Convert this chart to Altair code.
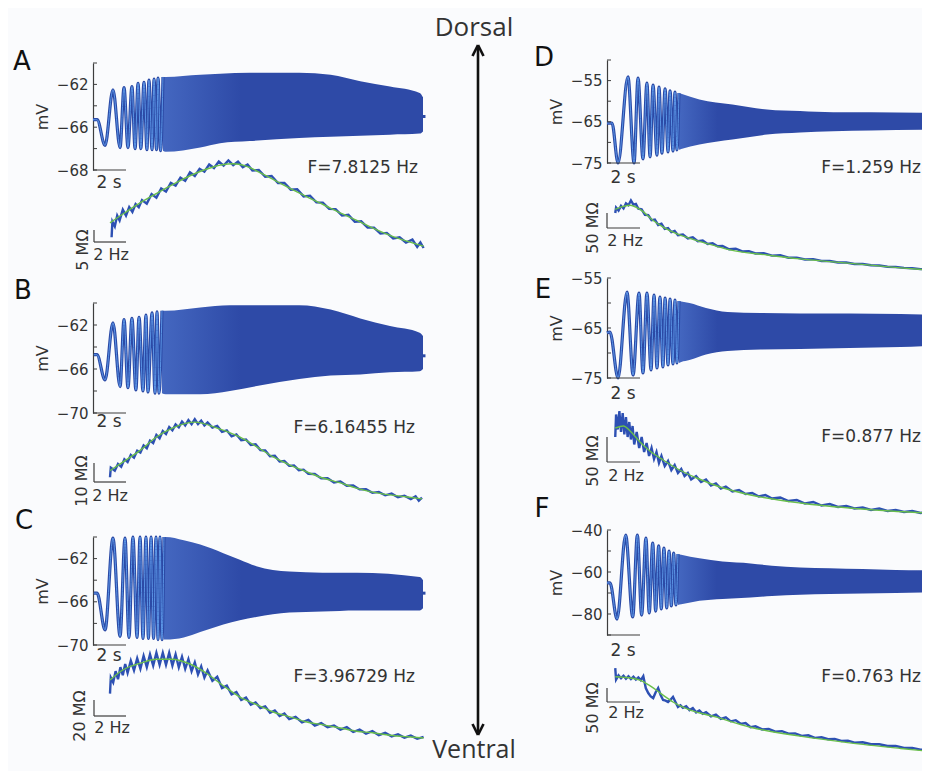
import altair as alt
import pandas as pd

# ======================= DATA =======================
# ---- voltage traces: early cycles as successive extremes (s, mV), later dense part as envelope ----
A_t = [0.0, 0.25, 0.73, 1.21, 1.64, 1.88, 2.12, 2.36, 2.55, 2.73, 2.9, 3.09, 3.27, 3.39, 3.58, 3.7, 3.85, 3.94, 4.1, 4.24]
A_v = [-65.3, -65.3, -67.7, -62.5, -67.9, -62.3, -67.9, -62.2, -68.0, -61.9, -68.0, -61.8, -68.1, -61.6, -68.1, -61.5, -68.1, -61.4, -68.2, -61.3]
A_env_t = [4.24, 4.4, 6.5, 7.7, 9.5, 12.5, 14.4, 16.2, 18.0, 19.8, 20.0]
A_env_hi = [-61.3, -61.3, -61.1, -61.0, -60.9, -60.9, -61.1, -61.7, -62.2, -62.8, -63.2]
A_env_lo = [-68.2, -68.3, -67.9, -67.5, -67.3, -67.0, -66.9, -66.8, -66.7, -66.6, -66.4]
A_tail_t = [19.95, 20.15]
A_tail_v = [-65.0, -65.0]

B_t = [0.05, 0.24, 0.73, 1.21, 1.64, 1.88, 2.12, 2.36, 2.6, 2.79, 3.03, 3.21, 3.33, 3.58, 3.76, 3.88, 4.0, 4.18]
B_v = [-64.7, -64.7, -67.0, -61.8, -67.6, -61.5, -67.7, -61.4, -67.9, -61.3, -68.0, -61.1, -68.1, -60.9, -68.2, -60.8, -68.2, -60.7]
B_env_t = [4.18, 4.4, 6.5, 8.3, 10.1, 12.5, 14.4, 16.2, 18.0, 19.8, 20.0]
B_env_hi = [-60.7, -60.7, -60.4, -60.2, -60.2, -60.2, -60.6, -61.4, -62.1, -62.7, -63.0]
B_env_lo = [-68.2, -68.3, -68.3, -68.0, -67.5, -66.9, -66.6, -66.5, -66.3, -66.2, -66.0]
B_tail_t = [19.95, 20.15]
B_tail_v = [-64.8, -64.8]

C_t = [0.05, 0.25, 0.73, 1.21, 1.64, 1.94, 2.18, 2.42, 2.67, 2.85, 3.03, 3.21, 3.36, 3.52, 3.67, 3.82, 3.94, 4.06, 4.18, 4.3]
C_v = [-65.2, -65.2, -68.6, -60.1, -69.2, -60.1, -69.3, -60.0, -69.3, -60.0, -69.4, -60.0, -69.4, -60.0, -69.4, -60.0, -69.5, -60.0, -69.5, -60.0]
C_env_t = [4.3, 4.4, 5.5, 6.5, 7.9, 8.9, 9.9, 11.9, 13.9, 16.0, 19.8, 20.0]
C_env_hi = [-60.0, -60.0, -60.3, -60.7, -61.5, -62.1, -62.7, -63.2, -63.3, -63.3, -63.7, -64.0]
C_env_lo = [-69.5, -69.5, -69.3, -68.8, -68.1, -67.7, -67.4, -67.0, -66.9, -66.8, -66.8, -66.6]
C_tail_t = [19.95, 20.15]
C_tail_v = [-65.2, -65.2]

D_t = [0.0, 0.3, 0.67, 1.27, 1.64, 1.88, 2.18, 2.42, 2.61, 2.79, 3.03, 3.15, 3.33, 3.52, 3.7, 3.82, 4.0, 4.12, 4.24, 4.36]
D_v = [-65.3, -65.3, -75.0, -54.1, -75.0, -54.4, -74.0, -55.6, -73.5, -56.1, -73.1, -56.6, -72.6, -57.0, -72.3, -57.5, -72.1, -57.8, -71.8, -58.0]
D_env_t = [4.36, 4.5, 5.6, 7.6, 9.7, 11.7, 13.7, 16.0, 19.6, 20.0]
D_env_hi = [-58.0, -58.2, -59.6, -60.8, -62.0, -62.4, -62.7, -62.7, -62.8, -62.8]
D_env_lo = [-71.8, -71.6, -70.5, -69.3, -68.1, -67.6, -67.3, -67.1, -66.9, -66.9]

E_t = [0.0, 0.18, 0.67, 1.21, 1.58, 1.94, 2.18, 2.42, 2.67, 2.85, 3.03, 3.21, 3.39, 3.52, 3.7, 3.82, 4.0, 4.12, 4.24, 4.36]
E_v = [-66.0, -65.8, -75.0, -57.8, -74.4, -58.0, -74.0, -58.0, -73.4, -58.4, -73.0, -58.8, -72.8, -59.0, -72.4, -59.2, -72.2, -59.4, -72.0, -59.6]
E_env_t = [4.36, 4.5, 5.0, 6.0, 7.3, 9.3, 11.7, 14.7, 17.8, 19.6, 20.0]
E_env_hi = [-59.6, -59.7, -60.0, -61.0, -61.8, -62.0, -62.1, -62.1, -62.2, -62.3, -62.3]
E_env_lo = [-72.0, -71.8, -71.4, -70.3, -69.6, -69.3, -69.2, -69.0, -68.8, -68.6, -68.6]

F_t = [0.0, 0.18, 0.61, 1.13, 1.56, 1.84, 2.1, 2.36, 2.56, 2.77, 2.95, 3.13, 3.29, 3.45, 3.62, 3.76, 3.9, 4.04, 4.18, 4.3]
F_v = [-65.2, -65.2, -82.4, -42.4, -81.4, -42.4, -80.5, -43.8, -79.5, -46.2, -78.6, -47.6, -77.6, -48.6, -77.1, -50.0, -76.2, -51.0, -75.7, -51.4]
F_env_t = [4.3, 4.5, 5.6, 7.0, 8.7, 10.0, 11.7, 13.5, 15.5, 17.5, 19.6, 20.0]
F_env_hi = [-51.4, -51.8, -53.5, -55.0, -55.9, -57.0, -57.8, -58.2, -58.6, -59.0, -59.2, -59.2]
F_env_lo = [-75.7, -75.4, -73.7, -72.8, -72.2, -71.4, -70.8, -70.5, -70.2, -70.0, -69.8, -69.8]

# ---- impedance profiles (Hz, MOhm): measured trace and fitted curve ----
A_imp_f = [1.1, 1.15, 1.3, 1.45, 1.6, 1.8, 2.0, 2.2, 2.4, 2.6, 2.8, 3.0, 3.3, 3.6, 3.9, 4.2, 4.5, 4.8, 5.1, 5.4, 5.7, 6.0, 6.3, 6.6, 6.9, 7.2, 7.5, 7.8, 8.1, 8.4, 8.7, 9.0, 9.3, 9.6, 9.9, 10.3, 10.7, 11.1, 11.5, 11.9, 12.3, 12.7, 13.1, 13.5, 13.9, 14.3, 14.7, 15.1, 15.5, 15.9, 16.3, 16.7, 17.1, 17.5, 17.9, 18.3, 18.7, 19.1, 19.5, 19.9, 20.2, 20.4, 20.6]
A_imp_z = [22.0, 28.5, 26.5, 31.0, 29.0, 33.5, 31.0, 34.5, 32.5, 35.8, 34.5, 37.5, 36.0, 40.0, 38.5, 42.3, 41.0, 44.6, 43.5, 46.8, 45.5, 49.0, 47.5, 50.5, 49.3, 52.3, 50.8, 53.5, 51.8, 54.0, 52.0, 53.5, 51.2, 52.3, 49.8, 50.0, 47.2, 47.5, 44.6, 44.6, 41.8, 42.0, 39.0, 39.3, 36.5, 36.4, 33.8, 33.7, 31.0, 31.3, 28.4, 28.6, 26.0, 26.0, 23.5, 23.8, 21.5, 22.0, 19.8, 21.0, 18.0, 19.8, 17.5]
A_fit_f = [1.0, 2.0, 3.0, 4.0, 5.0, 6.0, 7.0, 8.0, 8.7, 9.5, 10.5, 11.5, 12.5, 13.5, 14.5, 15.5, 16.5, 17.5, 18.5, 19.5, 20.6]
A_fit_z = [28.0, 32.5, 36.8, 40.6, 44.2, 47.6, 50.3, 52.2, 52.6, 51.6, 48.5, 45.0, 41.5, 38.2, 35.0, 31.8, 28.8, 25.6, 22.8, 20.5, 18.3]

B_imp_f = [1.0, 1.05, 1.3, 1.5, 1.7, 1.9, 2.1, 2.3, 2.5, 2.7, 2.9, 3.1, 3.3, 3.5, 3.7, 3.9, 4.1, 4.3, 4.5, 4.7, 4.9, 5.1, 5.3, 5.5, 5.7, 5.9, 6.1, 6.3, 6.5, 6.7, 6.9, 7.1, 7.4, 7.7, 8.0, 8.3, 8.6, 8.9, 9.2, 9.5, 9.8, 10.1, 10.4, 10.7, 11.0, 11.3, 11.6, 11.9, 12.2, 12.5, 12.8, 13.1, 13.4, 13.8, 14.2, 14.6, 15.0, 15.4, 15.8, 16.2, 16.6, 17.0, 17.4, 17.8, 18.2, 18.6, 19.0, 19.4, 19.8, 20.1, 20.3, 20.5]
B_imp_z = [32.5, 37.5, 36.0, 39.5, 38.0, 42.0, 40.5, 44.2, 42.8, 46.5, 45.5, 49.2, 47.8, 51.8, 50.5, 54.8, 53.0, 56.8, 55.3, 58.9, 57.2, 60.3, 58.8, 61.8, 59.8, 62.6, 60.4, 63.0, 60.5, 62.3, 59.8, 61.3, 58.6, 59.5, 56.4, 57.2, 54.0, 55.0, 52.0, 52.4, 49.5, 49.8, 46.8, 46.6, 43.6, 43.8, 40.8, 41.0, 38.5, 38.7, 36.2, 36.5, 34.3, 34.2, 31.9, 32.0, 29.8, 30.3, 28.0, 28.2, 26.1, 26.2, 24.3, 24.8, 23.0, 23.9, 22.0, 22.8, 21.0, 22.5, 20.2, 21.8]
B_fit_f = [1.0, 1.8, 2.9, 3.9, 4.9, 6.3, 7.7, 9.1, 10.2, 11.2, 12.25, 13.3, 14.3, 15.4, 16.4, 17.4, 18.5, 19.6, 20.5]
B_fit_z = [36.0, 40.5, 46.8, 53.7, 58.4, 61.5, 58.4, 53.7, 48.4, 43.2, 38.9, 35.3, 32.1, 29.5, 26.8, 24.7, 23.2, 22.1, 21.1]

C_imp_f = [1.0, 1.05, 1.2, 1.35, 1.5, 1.65, 1.8, 1.95, 2.1, 2.3, 2.5, 2.7, 2.9, 3.1, 3.3, 3.5, 3.7, 3.9, 4.1, 4.3, 4.5, 4.7, 4.9, 5.1, 5.3, 5.5, 5.7, 5.9, 6.1, 6.3, 6.5, 6.7, 6.9, 7.1, 7.4, 7.7, 8.0, 8.3, 8.6, 8.9, 9.2, 9.5, 9.8, 10.1, 10.4, 10.7, 11.0, 11.3, 11.6, 11.9, 12.2, 12.6, 13.0, 13.4, 13.8, 14.2, 14.6, 15.0, 15.4, 15.8, 16.2, 16.6, 17.0, 17.4, 17.8, 18.2, 18.6, 19.0, 19.4, 19.8, 20.2, 20.6]
C_imp_z = [88, 108, 102, 116, 106, 121, 111, 125, 114, 129, 117, 132, 119, 135, 121, 137, 123, 139, 124, 139, 124, 139, 123, 137, 121, 134, 119, 131, 116, 127, 112, 122, 108, 117, 104, 109, 95, 98, 87, 90, 80, 83, 74, 77, 70, 72, 64, 67, 60, 63, 56, 59, 52, 55, 48, 51, 46, 48, 43, 46, 40, 43, 38, 41, 36, 39, 34.5, 37, 33, 35.5, 31.5, 34]
C_fit_f = [1.0, 1.8, 2.9, 3.9, 4.9, 6.0, 7.1, 8.1, 9.1, 10.2, 11.2, 12.25, 13.3, 14.3, 15.4, 16.4, 17.4, 18.5, 19.6, 20.6]
C_fit_z = [105, 117.5, 126, 131, 131, 125, 112.5, 97.5, 84, 74, 65, 59, 52.5, 49, 45, 41, 39, 36, 34, 32.5]

D_imp_f = [0.5, 0.55, 0.7, 0.85, 1.0, 1.15, 1.3, 1.45, 1.6, 1.75, 1.9, 2.1, 2.3, 2.5, 2.7, 2.9, 3.1, 3.3, 3.5, 3.7, 3.9, 4.1, 4.3, 4.6, 4.9, 5.2, 5.5, 5.8, 6.1, 6.4, 6.7, 7.0, 7.4, 7.8, 8.2, 8.6, 9.0, 9.5, 10.0, 10.5, 11.0, 11.5, 12.0, 12.5, 13.0, 13.5, 14.0, 14.5, 15.0, 15.5, 16.0, 16.5, 17.0, 17.5, 18.0, 18.5, 19.0, 19.5, 20.0]
D_imp_z = [250, 268, 258, 274, 265, 282, 276, 292, 278, 280, 264, 262, 244, 243, 226, 228, 210, 214, 197, 200, 186, 190, 176, 178, 165, 169, 156, 158, 147, 149, 139, 140, 129, 131, 122, 123, 115, 116, 108, 109, 101, 101, 95, 96, 90, 90, 85, 85, 80, 80, 76, 75, 71, 70, 67, 66, 63, 62, 59]
D_fit_f = [0.5, 1.0, 1.4, 2.0, 2.8, 3.4, 4.4, 5.45, 6.4, 7.45, 9.7, 11.7, 13.7, 15.8, 17.8, 20.0]
D_fit_z = [262, 272, 276, 262, 225, 203, 177, 158, 143, 127, 110, 97, 87, 77, 67, 58]

E_imp_f = [0.5, 0.55, 0.65, 0.75, 0.85, 0.95, 1.05, 1.15, 1.25, 1.35, 1.45, 1.55, 1.65, 1.8, 1.95, 2.1, 2.25, 2.4, 2.55, 2.7, 2.85, 3.0, 3.15, 3.3, 3.5, 3.7, 3.9, 4.1, 4.3, 4.5, 4.7, 4.9, 5.1, 5.4, 5.7, 6.0, 6.3, 6.6, 6.9, 7.2, 7.6, 8.0, 8.4, 8.8, 9.2, 9.6, 10.0, 10.5, 11.0, 11.5, 12.0, 12.5, 13.0, 13.5, 14.0, 14.5, 15.0, 15.5, 16.0, 16.5, 17.0, 17.5, 18.0, 18.5, 19.0, 19.5, 20.0]
E_imp_z = [200, 245, 215, 252, 210, 248, 205, 240, 200, 230, 195, 222, 185, 210, 178, 200, 170, 188, 162, 178, 156, 170, 148, 162, 142, 152, 134, 144, 128, 136, 122, 128, 115, 122, 110, 115, 103, 107, 97, 101, 91, 94, 86, 88, 81, 84, 77, 79, 72, 74, 67, 70, 63, 66, 60, 62, 57, 59, 54, 57, 52, 54, 50, 52, 48, 50, 47]
E_fit_f = [0.5, 1.0, 1.4, 2.0, 2.6, 3.4, 4.4, 5.45, 6.85, 8.7, 11.7, 14.7, 17.2, 20.0]
E_fit_z = [218, 222, 212, 190, 172, 154, 134, 118, 100, 84, 68, 58, 52, 47]

F_imp_f = [0.5, 0.55, 0.7, 0.85, 1.0, 1.15, 1.3, 1.45, 1.6, 1.75, 1.9, 2.05, 2.2, 2.35, 2.5, 2.65, 2.8, 2.95, 3.1, 3.25, 3.4, 3.55, 3.7, 3.85, 4.0, 4.15, 4.3, 4.45, 4.6, 4.8, 5.0, 5.2, 5.4, 5.6, 5.8, 6.0, 6.3, 6.6, 6.9, 7.2, 7.5, 7.8, 8.1, 8.4, 8.7, 9.0, 9.4, 9.8, 10.2, 10.6, 11.0, 11.4, 11.8, 12.2, 12.6, 13.0, 13.4, 13.8, 14.2, 14.6, 15.0, 15.5, 16.0, 16.5, 17.0, 17.5, 18.0, 18.5, 19.0, 19.5, 20.0]
F_imp_z = [371, 330, 345, 335, 344, 333, 342, 332, 340, 330, 338, 328, 342, 300, 282, 270, 264, 285, 300, 275, 257, 255, 250, 258, 268, 250, 232, 238, 229, 235, 221, 228, 213, 220, 208, 214, 199, 205, 190, 195, 181, 185, 172, 175, 160, 163, 152, 154, 144, 146, 137, 138, 129, 131, 122, 124, 117, 118, 111, 112, 105, 106, 99, 99, 93, 93, 86, 86, 80, 79, 72]
F_fit_f = [0.5, 1.0, 1.5, 2.0, 2.5, 3.0, 3.5, 4.0, 4.5, 5.0, 5.8, 6.7, 7.45, 8.7, 11.7, 14.7, 17.8, 20.0]
F_fit_z = [340, 338, 335, 328, 312, 292, 270, 250, 234, 222, 208, 195, 181, 160, 128, 104, 84, 71]

# ---- axis ticks / labels ----
AC_ticks = [-60, -62, -64, -66, -68, -70]
AC_labels = [-62, -66, -70]
D_ticks = [-50, -55, -60, -65, -70, -75]
E_ticks = [-55, -60, -65, -70, -75]
DE_labels = [-55, -65, -75]
F_ticks = [-40, -50, -60, -70, -80, -90]
F_labels = [-40, -60, -80]

PANELS = ["A", "B", "C", "D", "E", "F"]
RES_FREQ = ["F=7.8125 Hz", "F=6.16455 Hz", "F=3.96729 Hz", "F=1.259 Hz", "F=0.877 Hz", "F=0.763 Hz"]
BAR_S = 2          # time scale bar (s)
BAR_HZ = 2         # frequency scale bar (Hz)
BAR_MOHM = [5, 10, 20, 50, 50, 50]
Z_BASE = [20, 30, 60, 200, 150, 250]

# ======================= STYLE / LAYOUT =======================
FONT = "DejaVu Sans"
TXT = "#333333"
AXC = "#3d3d3d"
DARK = "#2b4aa6"
LIGHT = "#5b95e6"
BAND = "#2e4aa7"
RAW = "#2d50b3"
FIT = "#6abf4b"


def P(v):
    return v - 8  # page pixel -> chart pixel


def band_fill(stripe_end):
    return alt.Gradient(
        gradient="linear", x1=0, x2=1, y1=0, y2=0,
        stops=[alt.GradientStop(offset=0, color="#4467c0"),
               alt.GradientStop(offset=stripe_end, color=BAND),
               alt.GradientStop(offset=1, color=BAND)])


layers = []


def add_volt(t, v, et, ehi, elo, x0, ydom, ypix, ticks, labvals, labexpr=None, tail=None, stripe=0.3):
    spx = 16.5
    xs = alt.Scale(domain=[0, BAR_S], range=[P(x0), P(x0 + BAR_S * spx)], nice=False, zero=False)
    ys = alt.Scale(domain=ydom, range=[P(ypix[0]), P(ypix[1])], nice=False, zero=False)
    ax = dict(orient="left", offset=-P(x0), values=labvals, ticks=False, domain=True,
              domainColor=AXC, domainWidth=1.2, labelFont=FONT, labelFontSize=15,
              labelColor=TXT, labelPadding=5, labelFlush=False, labelOverlap=False,
              grid=False, title="mV", titleFont=FONT, titleFontSize=16,
              titleFontWeight="normal", titleColor=TXT, titlePadding=6)
    if labexpr:
        ax["labelExpr"] = labexpr
    X = alt.X("t:Q", scale=xs, axis=None)
    Y = alt.Y("v:Q", scale=ys, axis=None)
    de = pd.DataFrame({"t": et, "hi": ehi, "lo": elo})
    layers.append(alt.Chart(de).mark_area(color=band_fill(stripe), interpolate="monotone", clip=True)
                  .encode(x=X, y=alt.Y("hi:Q", scale=ys, axis=None), y2="lo:Q"))
    df = pd.DataFrame({"t": t, "v": v})
    layers.append(alt.Chart(df).mark_line(color=DARK, strokeWidth=3.2, interpolate="monotone", clip=True)
                  .encode(x=X, y=alt.Y("v:Q", scale=ys, axis=alt.Axis(**ax))))
    layers.append(alt.Chart(df).mark_line(color=LIGHT, strokeWidth=1.0, interpolate="monotone", clip=True)
                  .encode(x=X, y=Y))
    if tail is not None:
        dt = pd.DataFrame({"t": tail[0], "v": tail[1]})
        layers.append(alt.Chart(dt).mark_line(color=DARK, strokeWidth=3).encode(x=X, y=Y))
    dtk = pd.DataFrame({"v": ticks})
    layers.append(alt.Chart(dtk).mark_rule(color=AXC, strokeWidth=1)
                  .encode(y=Y, x=alt.value(P(x0)), x2=alt.value(P(x0) + 4)))
    db = pd.DataFrame({"t0": [0], "t1": [BAR_S], "v": [ydom[0]]})
    layers.append(alt.Chart(db).mark_rule(color=AXC, strokeWidth=1.2)
                  .encode(x=alt.X("t0:Q", scale=xs, axis=None), x2="t1:Q", y=Y))


def add_imp(f, z, ff, fz, x0, fpx, z0, zbar, ybase, barpx):
    xs = alt.Scale(domain=[0, BAR_HZ], range=[P(x0), P(x0 + BAR_HZ * fpx)], nice=False, zero=False)
    ys = alt.Scale(domain=[z0, z0 + zbar], range=[P(ybase), P(ybase - barpx)], nice=False, zero=False)
    X = alt.X("f:Q", scale=xs, axis=None)
    Y = alt.Y("z:Q", scale=ys, axis=None)
    layers.append(alt.Chart(pd.DataFrame({"f": f, "z": z})).mark_line(color=RAW, strokeWidth=2.4, clip=True)
                  .encode(x=X, y=Y))
    layers.append(alt.Chart(pd.DataFrame({"f": ff, "z": fz}))
                  .mark_line(color=FIT, strokeWidth=1.4, interpolate="monotone", clip=True)
                  .encode(x=X, y=Y))
    db = pd.DataFrame({"f": [0], "f1": [BAR_HZ], "z": [z0], "z1": [z0 + zbar]})
    layers.append(alt.Chart(db).mark_rule(color=AXC, strokeWidth=1.2)
                  .encode(x=X, x2="f1:Q", y=Y))
    layers.append(alt.Chart(db).mark_rule(color=AXC, strokeWidth=1.2)
                  .encode(x=X, y=Y, y2="z1:Q"))


def add_text(s, x, y, size, angle=None, align="center", font=FONT, color=TXT):
    kw = dict(font=font, fontSize=size, color=color, align=align, baseline="middle")
    if angle is not None:
        kw["angle"] = angle
    layers.append(alt.Chart(pd.DataFrame({"label": [s]})).mark_text(**kw)
                  .encode(text="label:N", x=alt.value(P(x)), y=alt.value(P(y))))


def add_seg(x1, y1, x2, y2, w=2.6):
    layers.append(alt.Chart(pd.DataFrame({"k": [0]})).mark_rule(color="#111111", strokeWidth=w)
                  .encode(x=alt.value(P(x1)), y=alt.value(P(y1)), x2=alt.value(P(x2)), y2=alt.value(P(y2))))


# ---- voltage panels ----
add_volt(A_t, A_v, A_env_t, A_env_hi, A_env_lo, 93, [-70, -60], [170, 63], AC_ticks, AC_labels,
         labexpr="datum.value == -70 ? '\u221268' : datum.label", tail=(A_tail_t, A_tail_v))
add_volt(B_t, B_v, B_env_t, B_env_hi, B_env_lo, 93, [-70, -60], [413, 303], AC_ticks, AC_labels,
         tail=(B_tail_t, B_tail_v))
add_volt(C_t, C_v, C_env_t, C_env_hi, C_env_lo, 93, [-70, -60], [645, 537], AC_ticks, AC_labels,
         tail=(C_tail_t, C_tail_v))
add_volt(D_t, D_v, D_env_t, D_env_hi, D_env_lo, 607, [-75, -50], [163, 60], D_ticks, DE_labels, stripe=0.15)
add_volt(E_t, E_v, E_env_t, E_env_hi, E_env_lo, 607, [-75, -55], [378, 278], E_ticks, DE_labels, stripe=0.15)
add_volt(F_t, F_v, F_env_t, F_env_hi, F_env_lo, 607, [-90, -40], [635, 530], F_ticks, F_labels, stripe=0.15)

# ---- impedance panels ----
add_imp(A_imp_f, A_imp_z, A_fit_f, A_fit_z, 94, 16, Z_BASE[0], BAR_MOHM[0], 242, 12)
add_imp(B_imp_f, B_imp_z, B_fit_f, B_fit_z, 94, 16, Z_BASE[1], BAR_MOHM[1], 482, 19)
add_imp(C_imp_f, C_imp_z, C_fit_f, C_fit_z, 94, 16, Z_BASE[2], BAR_MOHM[2], 716, 16)
add_imp(D_imp_f, D_imp_z, D_fit_f, D_fit_z, 607, 16.5, Z_BASE[3], BAR_MOHM[3], 228, 15)
add_imp(E_imp_f, E_imp_z, E_fit_f, E_fit_z, 607, 16.5, Z_BASE[4], BAR_MOHM[4], 462, 25)
add_imp(F_imp_f, F_imp_z, F_fit_f, F_fit_z, 607, 16.5, Z_BASE[5], BAR_MOHM[5], 702, 14)

# ---- annotations ----
letter_pos = [(22, 62), (23, 291), (24, 521), (544, 58), (543, 290), (542, 509)]
for s, (x, y) in zip(PANELS, letter_pos):
    add_text(s, x, y, 26, color="#111111")

freq_pos = [(418, 168), (415, 428), (415, 677), (921, 168), (921, 437), (921, 677)]
for s, (x, y) in zip(RES_FREQ, freq_pos):
    add_text(s, x, y, 17, align="right")

sec_pos = [(109, 183), (109, 422), (109, 656), (623, 178), (623, 394), (623, 651)]
for x, y in sec_pos:
    add_text(f"{BAR_S} s", x, y, 17)

hz_pos = [(111, 255), (110, 496), (112, 728), (625, 241), (626, 476), (626, 713)]
for x, y in hz_pos:
    add_text(f"{BAR_HZ} Hz", x, y, 16)

mo_pos = [(83, 250), (82, 481), (80, 716), (593, 228), (593, 461), (593, 708)]
for b, (x, y) in zip(BAR_MOHM, mo_pos):
    add_text(f"{b} M\u03a9", x, y, 16, angle=270)

add_text("Dorsal", 474, 28, 26, font="Open Sans")
add_text("Ventral", 474, 750, 25, font="Open Sans")

# ---- dorsal-ventral arrow ----
add_seg(478, 46, 478, 734)
add_seg(478, 45, 472.5, 56)
add_seg(478, 45, 483.5, 56)
add_seg(478, 735, 472.5, 724)
add_seg(478, 735, 483.5, 724)

chart = (
    alt.layer(*layers)
    .resolve_scale(x="independent", y="independent")
    .properties(width=914, height=763, padding=0, background="#fafbfd")
    .configure_view(stroke=None)
)

chart.save("out.html", embed_options={"renderer": "svg", "actions": False})
